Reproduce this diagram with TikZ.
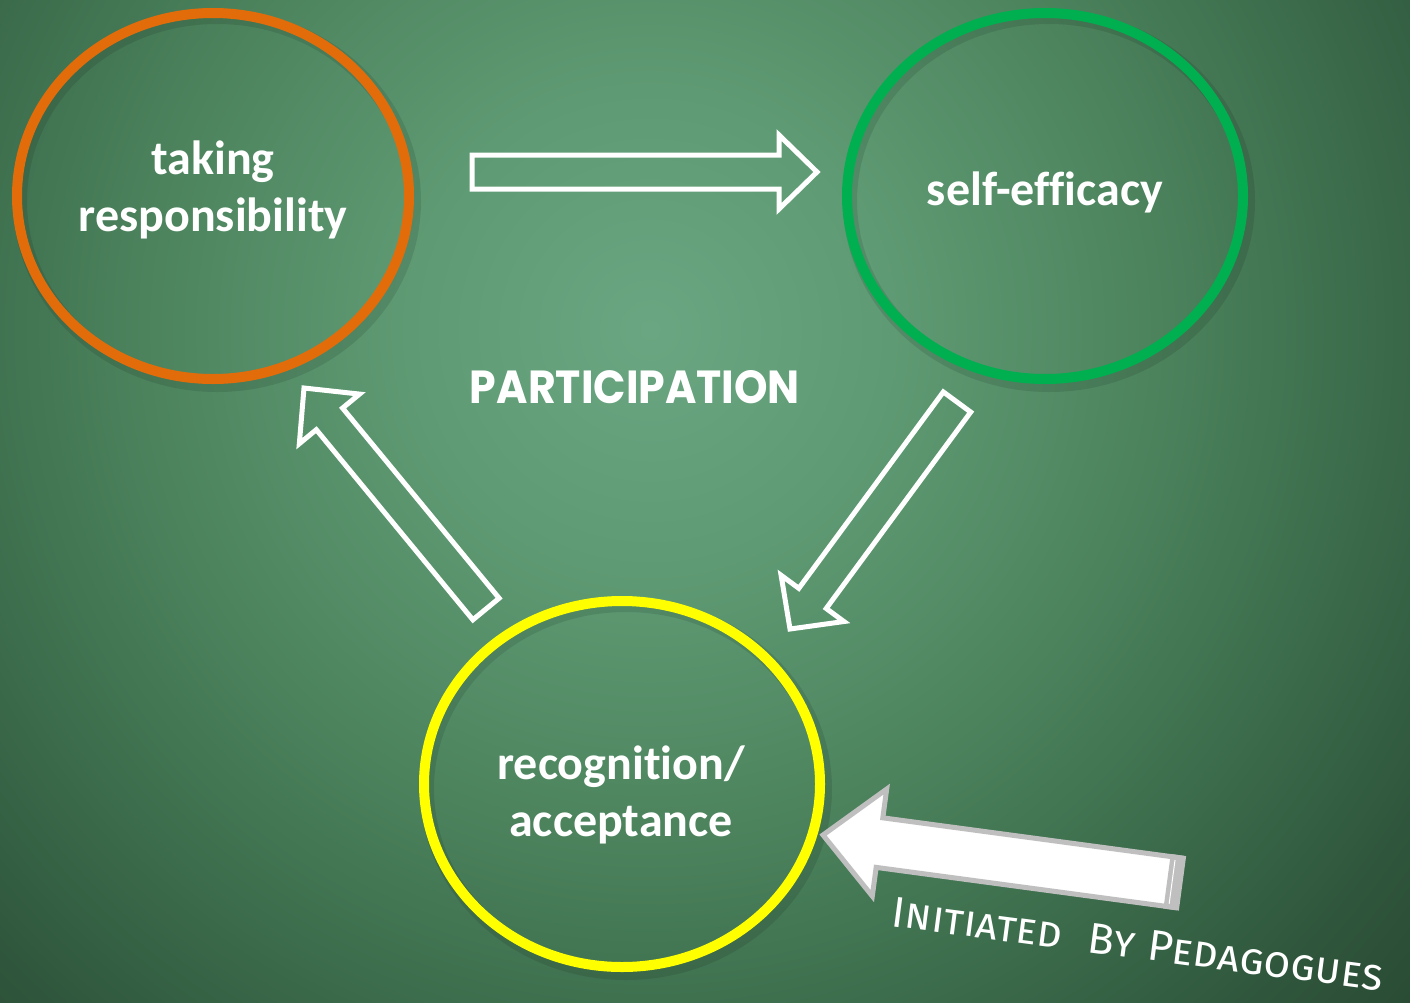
\documentclass[tikz,border=0pt]{standalone}
\usepackage{fontspec}
\usepackage{graphicx}
\usetikzlibrary{calc,shapes.geometric}
\setmainfont{Carlito}[Ligatures=NoCommon]
\newfontfamily\chalkfont{Poppins}
\newfontfamily\handfont{Fira Sans}[Letters=SmallCaps]

% chalkboard colours
\definecolor{boardA}{RGB}{106,166,129}
\definecolor{boardB}{RGB}{94,154,115}
\definecolor{boardC}{RGB}{76,131,93}
\definecolor{boardD}{RGB}{60,109,76}
\definecolor{boardE}{RGB}{47,86,60}
\definecolor{boardF}{RGB}{38,68,46}
\definecolor{ringorange}{RGB}{227,108,10}
\definecolor{ringgreen}{RGB}{0,176,80}
\definecolor{ringyellow}{RGB}{255,255,0}
\definecolor{bevel}{RGB}{191,191,191}

% radial board shading (25bp corresponds to the radius of the shaded circle)
\pgfdeclareradialshading{boardshade}{\pgfpoint{0bp}{0bp}}{%
  color(0bp)=(boardA); color(5.5bp)=(boardB); color(11.5bp)=(boardC);
  color(16bp)=(boardD); color(20.5bp)=(boardE); color(25bp)=(boardF); color(50bp)=(boardF)}

% block arrow: #1 style, #2 tail, #3 tip, #4 shaft half width, #5 head half width, #6 head length
\newcommand\blockarrow[6]{%
  \path ($(#3)!#6!(#2)$) coordinate (hb);
  \draw[#1] ($(#2)!#4!90:(#3)$) -- ($(hb)!#4!-90:(#2)$) -- ($(hb)!#5!-90:(#2)$)
    -- (#3) -- ($(hb)!#5!90:(#2)$) -- ($(hb)!#4!90:(#2)$) -- ($(#2)!#4!-90:(#3)$) -- cycle;
}

\tikzset{
  ring/.style={ellipse, draw, line width=10pt, inner sep=0pt},
  ringshadow/.style={draw=black, opacity=.10, line width=14pt},
  lbl/.style={text=white, align=center, inner sep=0pt,
    font=\bfseries\fontsize{48}{57}\selectfont},
  hollow/.style={draw=white, line width=5pt, line join=miter},
}

\begin{document}
\begin{tikzpicture}[x=1pt, y=-1pt]
  % board
  \begin{scope}
    \clip (0,0) rectangle (1410,1002);
    \shade[shading=boardshade] (650,330) circle (1100pt);
  \end{scope}
  \useasboundingbox (0,0) rectangle (1410,1002);

  % soft ring shadows
  \draw[ringshadow] (217,201) ellipse [x radius=197pt, y radius=184pt];
  \draw[ringshadow] (1049,201) ellipse [x radius=199pt, y radius=184pt];
  \draw[ringshadow] (626,789) ellipse [x radius=199pt, y radius=184pt];

  % rings
  \node[ring, draw=ringorange, minimum width=392pt, minimum height=366pt] (resp) at (213,196) {};
  \node[ring, draw=ringgreen, minimum width=396pt, minimum height=366pt] (self) at (1045,196) {};
  \node[ring, draw=ringyellow, minimum width=396pt, minimum height=366pt] (recog) at (622,784) {};

  \node[lbl] (resp-txt) at (213,190) {taking\\responsibility};
  \node[lbl] (self-txt) at (1045,192) {self-efficacy};
  \node[lbl] (recog-txt) at (621,795) {recognition/\\acceptance};

  % hollow arrows of the cycle
  \coordinate (a1-tail) at (472,172);
  \coordinate (a1-tip) at (817,172);
  \blockarrow{hollow}{a1-tail}{a1-tip}{17pt}{37pt}{38pt}

  \coordinate (a2-tail) at (957,402);
  \coordinate (a2-tip) at (790,629);
  \blockarrow{hollow}{a2-tail}{a2-tip}{17pt}{39pt}{38pt}

  \coordinate (a3-tail) at (486,609);
  \coordinate (a3-tip) at (304,388);
  \blockarrow{hollow}{a3-tail}{a3-tip}{17pt}{39pt}{40pt}

  % centre caption
  \node[text=white, inner sep=0pt] (part) at (635,387)
    {\resizebox{330pt}{33pt}{\chalkfont\bfseries PARTICIPATION}};

  % solid arrow pointing at the recognition ring
  \coordinate (a4-tail) at (1180,883);
  \coordinate (a4-tip) at (823,835);
  \begin{scope}[shift={(5,7)}]
    \blockarrow{fill=black, opacity=.22, draw=none}{a4-tail}{a4-tip}{26pt}{55pt}{57pt}
  \end{scope}
  \blockarrow{fill=white, draw=bevel, line width=5pt, line join=miter}{a4-tail}{a4-tip}{25pt}{54pt}{57pt}
  \path ($(a4-tail)!13pt!(a4-tip)$) coordinate (a4-cap);
  \path ($(a4-tail)!8pt!(a4-tip)$) coordinate (a4-line);
  \fill[bevel] ($(a4-tail)!27.5pt!90:(a4-tip)$) -- ($(a4-cap)!27.5pt!-90:(a4-tail)$)
    -- ($(a4-cap)!27.5pt!90:(a4-tail)$) -- ($(a4-tail)!27.5pt!-90:(a4-tip)$) -- cycle;
  \draw[white, line width=1pt] ($(a4-line)!22pt!-90:(a4-tail)$) -- ($(a4-line)!22pt!90:(a4-tail)$);

  % caption of the solid arrow
  \node[text=white, inner sep=0pt, rotate=-7.5] (init) at (1138,944)
    {\resizebox{495pt}{!}{\handfont\fontsize{34}{34}\selectfont
      Initiated\hspace{0.6em}By\hspace{0.3em}Pedagogues}};
\end{tikzpicture}
\end{document}
